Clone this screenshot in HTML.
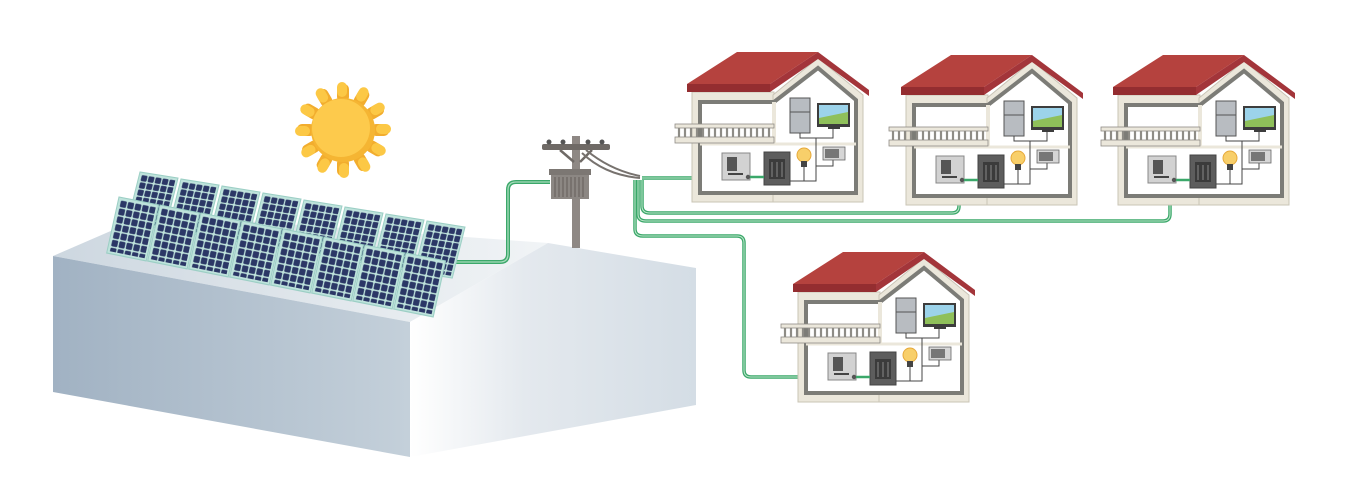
<!DOCTYPE html>
<html><head><meta charset="utf-8"><style>html,body{margin:0;padding:0;background:#fff}svg{display:block}</style></head>
<body>
<svg width="1359" height="497" viewBox="0 0 1359 497" xmlns="http://www.w3.org/2000/svg">
<defs>
<linearGradient id="lf" x1="0" x2="1" y1="0" y2="0"><stop offset="0" stop-color="#a1b2c3"/><stop offset="1" stop-color="#c4d0da"/></linearGradient>
<linearGradient id="rf" x1="0" x2="1" y1="0" y2="0"><stop offset="0" stop-color="#ffffff"/><stop offset="0.4" stop-color="#e4e9ee"/><stop offset="1" stop-color="#d4dde5"/></linearGradient>
<linearGradient id="tf" x1="0" x2="1" y1="0" y2="0"><stop offset="0" stop-color="#cdd7e0"/><stop offset="1" stop-color="#f1f4f6"/></linearGradient>
<pattern id="cells" width="7" height="7" patternUnits="userSpaceOnUse" x="2" y="2"><rect x="0.6" y="0.6" width="5.8" height="5.8" rx="1" fill="#2b3766"/></pattern>
<g id="panel"><rect x="0" y="0" width="38" height="50" fill="#bfe3dc" stroke="#9ccfc5" stroke-width="1"/><rect x="2" y="2" width="34" height="46" fill="url(#cells)"/></g>
<g id="house">
  <rect x="22" y="52" width="82" height="110" fill="#ebe7db" stroke="#c9c4b6"/>
  <polygon points="103,55 148,18 193,55 193,162 103,162" fill="#ebe7db" stroke="#c9c4b6"/>
  <polygon points="30,62 104,62 148,28 186,60 186,153 30,153" fill="#fff" stroke="#7c7c77" stroke-width="4"/>
  <line x1="104" y1="62" x2="104" y2="103" stroke="#ebe7db" stroke-width="4"/>
  <line x1="30" y1="104" x2="186" y2="104" stroke="#ebe7db" stroke-width="3"/>
  <polygon points="17,44 67,12 148,12 100,44" fill="#b5423e"/>
  <polygon points="17,44 100,44 100,52 17,52" fill="#942d30"/>
  <polygon points="148,12 199,50 199,56 148,19 100,52 100,44" fill="#a3353a"/>
  <rect x="5" y="84" width="99" height="4" fill="#ebe7db" stroke="#8e8c86" stroke-width="0.8"/>
  <rect x="5" y="97" width="99" height="6" fill="#ebe7db" stroke="#8e8c86" stroke-width="0.8"/>
  <g stroke="#8e8c86" stroke-width="2.2">
    <line x1="9" y1="88" x2="9" y2="97"/><line x1="15" y1="88" x2="15" y2="97"/><line x1="21" y1="88" x2="21" y2="97"/><line x1="27" y1="88" x2="27" y2="97"/><line x1="33" y1="88" x2="33" y2="97"/><line x1="39" y1="88" x2="39" y2="97"/><line x1="45" y1="88" x2="45" y2="97"/><line x1="51" y1="88" x2="51" y2="97"/><line x1="57" y1="88" x2="57" y2="97"/><line x1="63" y1="88" x2="63" y2="97"/><line x1="69" y1="88" x2="69" y2="97"/><line x1="75" y1="88" x2="75" y2="97"/><line x1="81" y1="88" x2="81" y2="97"/><line x1="87" y1="88" x2="87" y2="97"/><line x1="93" y1="88" x2="93" y2="97"/><line x1="99" y1="88" x2="99" y2="97"/>
  </g>
  <rect x="120" y="58" width="20" height="35" fill="#b8bcc1" stroke="#555" stroke-width="1"/>
  <line x1="120" y1="72" x2="140" y2="72" stroke="#555"/>
  <rect x="147" y="63" width="33" height="24" fill="#3d3d3d"/>
  <rect x="149" y="65" width="29" height="19" fill="#9cd3ea"/>
  <polygon points="149,78 178,72 178,84 149,84" fill="#8fc05a"/>
  <rect x="158" y="87" width="12" height="2" fill="#3d3d3d"/>
  <g stroke="#444" stroke-width="1" fill="none">
    <polyline points="130,93 130,98 163,98 163,89"/>
    <polyline points="146,98 146,141 120,141"/>
    <polyline points="146,126 163,126 163,120"/>
  </g>
  <rect x="153" y="107" width="22" height="13" fill="#d6d6d6" stroke="#666" stroke-width="0.8"/>
  <rect x="155" y="109" width="14" height="9" fill="#777"/>
  <circle cx="134" cy="115" r="7" fill="#f8cf6a" stroke="#e6a93a"/>
  <rect x="131" y="121" width="6" height="6" fill="#444"/>
  <line x1="134" y1="127" x2="134" y2="141" stroke="#444"/>
  <rect x="52" y="113" width="28" height="27" fill="#d2d2d2" stroke="#888"/>
  <rect x="57" y="117" width="10" height="14" fill="#555"/>
  <rect x="58" y="133" width="15" height="2" fill="#444"/>
  <circle cx="78" cy="137" r="2.2" fill="#555"/>
  <rect x="94" y="112" width="26" height="33" fill="#5d5d5d" stroke="#444"/>
  <rect x="99" y="119" width="16" height="20" fill="#3b3b3b"/>
  <g stroke="#888" stroke-width="1"><line x1="102" y1="122" x2="102" y2="137"/><line x1="107" y1="122" x2="107" y2="137"/><line x1="112" y1="122" x2="112" y2="137"/></g>
  <line x1="80" y1="137" x2="94" y2="137" stroke="#3ba86a" stroke-width="2.5"/>
</g>
</defs>

<polygon points="53,256 150,214 548,243 410,322" fill="url(#tf)"/>
<polygon points="53,256 410,322 410,457 53,392" fill="url(#lf)"/>
<polygon points="410,322 548,243 696,268 696,405 410,457" fill="url(#rf)"/>

<path d="M450,262 H500 Q508,262 508,254 V190 Q508,182 516,182 H550" fill="none" stroke="#3ba86a" stroke-width="4"/>
<path d="M450,262 H500 Q508,262 508,254 V190 Q508,182 516,182 H550" fill="none" stroke="#a8dcbc" stroke-width="1.3"/>

<g>
<use href="#panel" transform="matrix(1,0.16,-0.25,1,140,172) scale(1,1.02)"/>
<use href="#panel" transform="matrix(1,0.16,-0.25,1,181,179) scale(1,1.02)"/>
<use href="#panel" transform="matrix(1,0.16,-0.25,1,222,186) scale(1,1.02)"/>
<use href="#panel" transform="matrix(1,0.16,-0.25,1,263,193) scale(1,1.02)"/>
<use href="#panel" transform="matrix(1,0.16,-0.25,1,304,200) scale(1,1.02)"/>
<use href="#panel" transform="matrix(1,0.16,-0.25,1,345,207) scale(1,1.02)"/>
<use href="#panel" transform="matrix(1,0.16,-0.25,1,386,214) scale(1,1.02)"/>
<use href="#panel" transform="matrix(1,0.16,-0.25,1,427,221) scale(1,1.02)"/>
</g>
<g>
<use href="#panel" transform="matrix(1,0.2,-0.22,1,119,197) scale(1.04,1.12)"/>
<use href="#panel" transform="matrix(1,0.2,-0.22,1,160,205) scale(1.04,1.12)"/>
<use href="#panel" transform="matrix(1,0.2,-0.22,1,201,213) scale(1.04,1.12)"/>
<use href="#panel" transform="matrix(1,0.2,-0.22,1,242,221) scale(1.04,1.12)"/>
<use href="#panel" transform="matrix(1,0.2,-0.22,1,283,229) scale(1.04,1.12)"/>
<use href="#panel" transform="matrix(1,0.2,-0.22,1,324,237) scale(1.04,1.12)"/>
<use href="#panel" transform="matrix(1,0.2,-0.22,1,365,245) scale(1.04,1.12)"/>
<use href="#panel" transform="matrix(1,0.2,-0.22,1,406,253) scale(1.04,1.12)"/>
</g>

<g transform="translate(343,130)">
  <g fill="#f2ad2e">
    <rect x="-6" y="-46" width="12" height="18" rx="5"/>
    <rect x="-6" y="-46" width="12" height="18" rx="5" transform="rotate(30)"/>
    <rect x="-6" y="-46" width="12" height="18" rx="5" transform="rotate(60)"/>
    <rect x="-6" y="-46" width="12" height="18" rx="5" transform="rotate(90)"/>
    <rect x="-6" y="-46" width="12" height="18" rx="5" transform="rotate(120)"/>
    <rect x="-6" y="-46" width="12" height="18" rx="5" transform="rotate(150)"/>
    <rect x="-6" y="-46" width="12" height="18" rx="5" transform="rotate(180)"/>
    <rect x="-6" y="-46" width="12" height="18" rx="5" transform="rotate(210)"/>
    <rect x="-6" y="-46" width="12" height="18" rx="5" transform="rotate(240)"/>
    <rect x="-6" y="-46" width="12" height="18" rx="5" transform="rotate(270)"/>
    <rect x="-6" y="-46" width="12" height="18" rx="5" transform="rotate(300)"/>
    <rect x="-6" y="-46" width="12" height="18" rx="5" transform="rotate(330)"/>
  </g>
  <g fill="#fcc845">
    <rect x="-6" y="-48" width="10" height="15" rx="5"/>
    <rect x="-6" y="-48" width="10" height="15" rx="5" transform="rotate(30)"/>
    <rect x="-6" y="-48" width="10" height="15" rx="5" transform="rotate(60)"/>
    <rect x="-6" y="-48" width="10" height="15" rx="5" transform="rotate(90)"/>
    <rect x="-6" y="-48" width="10" height="15" rx="5" transform="rotate(120)"/>
    <rect x="-6" y="-48" width="10" height="15" rx="5" transform="rotate(150)"/>
    <rect x="-6" y="-48" width="10" height="15" rx="5" transform="rotate(180)"/>
    <rect x="-6" y="-48" width="10" height="15" rx="5" transform="rotate(210)"/>
    <rect x="-6" y="-48" width="10" height="15" rx="5" transform="rotate(240)"/>
    <rect x="-6" y="-48" width="10" height="15" rx="5" transform="rotate(270)"/>
    <rect x="-6" y="-48" width="10" height="15" rx="5" transform="rotate(300)"/>
    <rect x="-6" y="-48" width="10" height="15" rx="5" transform="rotate(330)"/>
  </g>
  <circle r="32" fill="#f5b533"/>
  <circle cx="-2" cy="-2" r="29" fill="#fdca4c"/>
</g>

<rect x="572" y="136" width="8" height="112" fill="#8e8884"/>
<rect x="542" y="144" width="68" height="6" rx="2" fill="#6f6a66"/>
<g fill="#555"><circle cx="549" cy="142" r="2.5"/><circle cx="563" cy="142" r="2.5"/><circle cx="588" cy="142" r="2.5"/><circle cx="602" cy="142" r="2.5"/></g>
<path d="M560,150 L574,162 M592,150 L580,162" stroke="#6f6a66" stroke-width="2.5"/>
<path d="M582,153 Q605,175 640,178 M586,150 Q610,170 640,176" stroke="#77726e" stroke-width="2" fill="none"/>
<rect x="549" y="169" width="42" height="6" fill="#7c7773"/>
<rect x="551" y="175" width="38" height="24" fill="#8c8783"/>
<g stroke="#6a6561" stroke-width="1.2"><line x1="555" y1="177" x2="555" y2="197"/><line x1="559" y1="177" x2="559" y2="197"/><line x1="563" y1="177" x2="563" y2="197"/><line x1="567" y1="177" x2="567" y2="197"/><line x1="571" y1="177" x2="571" y2="197"/><line x1="575" y1="177" x2="575" y2="197"/><line x1="579" y1="177" x2="579" y2="197"/><line x1="583" y1="177" x2="583" y2="197"/></g>

<g fill="none" stroke="#3ba86a" stroke-width="3.5">
  <path d="M642,178 H725"/>
  <path d="M642,180 V206 Q642,213 650,213 H952 Q959,213 959,206 V184"/>
  <path d="M638,180 V214 Q638,221 646,221 H1163 Q1170,221 1170,214 V188"/>
  <path d="M635,180 V229 Q635,236 643,236 H737 Q744,236 744,243 V370 Q744,377 751,377 H835"/>
</g>
<g fill="none" stroke="#bfe6cc" stroke-width="1">
  <path d="M642,178 H725"/>
  <path d="M642,180 V206 Q642,213 650,213 H952 Q959,213 959,206 V184"/>
  <path d="M638,180 V214 Q638,221 646,221 H1163 Q1170,221 1170,214 V188"/>
  <path d="M635,180 V229 Q635,236 643,236 H737 Q744,236 744,243 V370 Q744,377 751,377 H835"/>
</g>

<use href="#house" transform="translate(670,40)"/>
<use href="#house" transform="translate(884,43)"/>
<use href="#house" transform="translate(1096,43)"/>
<use href="#house" transform="translate(776,240)"/>
</svg>
</body></html>
